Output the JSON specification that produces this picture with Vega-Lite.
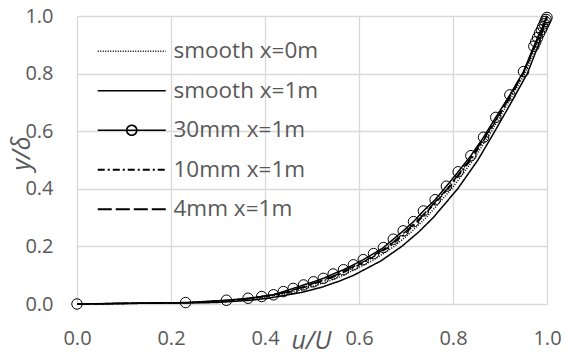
{
  "$schema": "https://vega.github.io/schema/vega-lite/v6.json",
  "width": 470,
  "height": 288,
  "autosize": {"type": "none"},
  "padding": {"left": 77, "top": 16, "right": 21, "bottom": 50},
  "background": "white",
  "config": {
    "view": {"stroke": null},
    "font": "Open Sans",
    "axis": {
      "grid": true,
      "gridColor": "#d9d9d9",
      "gridWidth": 1.3,
      "domain": false,
      "ticks": false,
      "labelFlush": false,
      "labelFont": "Open Sans",
      "labelFontSize": 20,
      "labelColor": "#595959",
      "titleFont": "Open Sans",
      "titleFontSize": 25,
      "titleFontStyle": "italic",
      "titleFontWeight": "normal",
      "titleColor": "#595959"
    }
  },
  "data": {
    "values": [
      {"s": "smooth x=0m", "u": 0, "y": 0},
      {"s": "smooth x=0m", "u": 0.267, "y": 0.005},
      {"s": "smooth x=0m", "u": 0.346, "y": 0.013},
      {"s": "smooth x=0m", "u": 0.386, "y": 0.02},
      {"s": "smooth x=0m", "u": 0.458, "y": 0.04},
      {"s": "smooth x=0m", "u": 0.5, "y": 0.06},
      {"s": "smooth x=0m", "u": 0.536, "y": 0.08},
      {"s": "smooth x=0m", "u": 0.567, "y": 0.1},
      {"s": "smooth x=0m", "u": 0.628, "y": 0.15},
      {"s": "smooth x=0m", "u": 0.675, "y": 0.2},
      {"s": "smooth x=0m", "u": 0.711, "y": 0.25},
      {"s": "smooth x=0m", "u": 0.743, "y": 0.3},
      {"s": "smooth x=0m", "u": 0.797, "y": 0.4},
      {"s": "smooth x=0m", "u": 0.843, "y": 0.5},
      {"s": "smooth x=0m", "u": 0.882, "y": 0.6},
      {"s": "smooth x=0m", "u": 0.918, "y": 0.7},
      {"s": "smooth x=0m", "u": 0.953, "y": 0.8},
      {"s": "smooth x=0m", "u": 0.978, "y": 0.9},
      {"s": "smooth x=0m", "u": 1.0, "y": 1.0},
      {"s": "smooth x=1m", "u": 0, "y": 0},
      {"s": "smooth x=1m", "u": 0.296, "y": 0.005},
      {"s": "smooth x=1m", "u": 0.369, "y": 0.013},
      {"s": "smooth x=1m", "u": 0.407, "y": 0.02},
      {"s": "smooth x=1m", "u": 0.477, "y": 0.04},
      {"s": "smooth x=1m", "u": 0.524, "y": 0.06},
      {"s": "smooth x=1m", "u": 0.559, "y": 0.08},
      {"s": "smooth x=1m", "u": 0.589, "y": 0.1},
      {"s": "smooth x=1m", "u": 0.647, "y": 0.15},
      {"s": "smooth x=1m", "u": 0.691, "y": 0.2},
      {"s": "smooth x=1m", "u": 0.727, "y": 0.25},
      {"s": "smooth x=1m", "u": 0.758, "y": 0.3},
      {"s": "smooth x=1m", "u": 0.81, "y": 0.4},
      {"s": "smooth x=1m", "u": 0.853, "y": 0.5},
      {"s": "smooth x=1m", "u": 0.889, "y": 0.6},
      {"s": "smooth x=1m", "u": 0.924, "y": 0.7},
      {"s": "smooth x=1m", "u": 0.958, "y": 0.8},
      {"s": "smooth x=1m", "u": 0.982, "y": 0.9},
      {"s": "smooth x=1m", "u": 1.0, "y": 1.0},
      {"s": "30mm x=1m", "u": 0, "y": 0},
      {"s": "30mm x=1m", "u": 0.231, "y": 0.005},
      {"s": "30mm x=1m", "u": 0.318, "y": 0.013},
      {"s": "30mm x=1m", "u": 0.364, "y": 0.02},
      {"s": "30mm x=1m", "u": 0.393, "y": 0.026},
      {"s": "30mm x=1m", "u": 0.418, "y": 0.032},
      {"s": "30mm x=1m", "u": 0.439, "y": 0.043},
      {"s": "30mm x=1m", "u": 0.46, "y": 0.054},
      {"s": "30mm x=1m", "u": 0.482, "y": 0.066},
      {"s": "30mm x=1m", "u": 0.503, "y": 0.077},
      {"s": "30mm x=1m", "u": 0.524, "y": 0.089},
      {"s": "30mm x=1m", "u": 0.545, "y": 0.104},
      {"s": "30mm x=1m", "u": 0.567, "y": 0.119},
      {"s": "30mm x=1m", "u": 0.588, "y": 0.136},
      {"s": "30mm x=1m", "u": 0.609, "y": 0.154},
      {"s": "30mm x=1m", "u": 0.631, "y": 0.175},
      {"s": "30mm x=1m", "u": 0.652, "y": 0.196},
      {"s": "30mm x=1m", "u": 0.673, "y": 0.225},
      {"s": "30mm x=1m", "u": 0.694, "y": 0.254},
      {"s": "30mm x=1m", "u": 0.716, "y": 0.286},
      {"s": "30mm x=1m", "u": 0.737, "y": 0.323},
      {"s": "30mm x=1m", "u": 0.762, "y": 0.362},
      {"s": "30mm x=1m", "u": 0.786, "y": 0.409},
      {"s": "30mm x=1m", "u": 0.811, "y": 0.459},
      {"s": "30mm x=1m", "u": 0.838, "y": 0.515},
      {"s": "30mm x=1m", "u": 0.865, "y": 0.579},
      {"s": "30mm x=1m", "u": 0.891, "y": 0.648},
      {"s": "30mm x=1m", "u": 0.921, "y": 0.726},
      {"s": "30mm x=1m", "u": 0.95, "y": 0.807},
      {"s": "30mm x=1m", "u": 0.972, "y": 0.895},
      {"s": "30mm x=1m", "u": 0.976, "y": 0.91},
      {"s": "30mm x=1m", "u": 0.98, "y": 0.925},
      {"s": "30mm x=1m", "u": 0.984, "y": 0.94},
      {"s": "30mm x=1m", "u": 0.988, "y": 0.952},
      {"s": "30mm x=1m", "u": 0.991, "y": 0.963},
      {"s": "30mm x=1m", "u": 0.994, "y": 0.973},
      {"s": "30mm x=1m", "u": 0.996, "y": 0.981},
      {"s": "30mm x=1m", "u": 0.998, "y": 0.988},
      {"s": "30mm x=1m", "u": 1.0, "y": 0.995},
      {"s": "10mm x=1m", "u": 0, "y": 0},
      {"s": "10mm x=1m", "u": 0.251, "y": 0.005},
      {"s": "10mm x=1m", "u": 0.333, "y": 0.013},
      {"s": "10mm x=1m", "u": 0.374, "y": 0.02},
      {"s": "10mm x=1m", "u": 0.447, "y": 0.04},
      {"s": "10mm x=1m", "u": 0.487, "y": 0.06},
      {"s": "10mm x=1m", "u": 0.523, "y": 0.08},
      {"s": "10mm x=1m", "u": 0.555, "y": 0.1},
      {"s": "10mm x=1m", "u": 0.617, "y": 0.15},
      {"s": "10mm x=1m", "u": 0.666, "y": 0.2},
      {"s": "10mm x=1m", "u": 0.702, "y": 0.25},
      {"s": "10mm x=1m", "u": 0.734, "y": 0.3},
      {"s": "10mm x=1m", "u": 0.79, "y": 0.4},
      {"s": "10mm x=1m", "u": 0.838, "y": 0.5},
      {"s": "10mm x=1m", "u": 0.878, "y": 0.6},
      {"s": "10mm x=1m", "u": 0.915, "y": 0.7},
      {"s": "10mm x=1m", "u": 0.95, "y": 0.8},
      {"s": "10mm x=1m", "u": 0.976, "y": 0.9},
      {"s": "10mm x=1m", "u": 1.0, "y": 1.0},
      {"s": "4mm x=1m", "u": 0, "y": 0},
      {"s": "4mm x=1m", "u": 0.244, "y": 0.005},
      {"s": "4mm x=1m", "u": 0.328, "y": 0.013},
      {"s": "4mm x=1m", "u": 0.369, "y": 0.02},
      {"s": "4mm x=1m", "u": 0.443, "y": 0.04},
      {"s": "4mm x=1m", "u": 0.482, "y": 0.06},
      {"s": "4mm x=1m", "u": 0.518, "y": 0.08},
      {"s": "4mm x=1m", "u": 0.55, "y": 0.1},
      {"s": "4mm x=1m", "u": 0.613, "y": 0.15},
      {"s": "4mm x=1m", "u": 0.662, "y": 0.2},
      {"s": "4mm x=1m", "u": 0.698, "y": 0.25},
      {"s": "4mm x=1m", "u": 0.731, "y": 0.3},
      {"s": "4mm x=1m", "u": 0.788, "y": 0.4},
      {"s": "4mm x=1m", "u": 0.835, "y": 0.5},
      {"s": "4mm x=1m", "u": 0.876, "y": 0.6},
      {"s": "4mm x=1m", "u": 0.914, "y": 0.7},
      {"s": "4mm x=1m", "u": 0.949, "y": 0.8},
      {"s": "4mm x=1m", "u": 0.975, "y": 0.9},
      {"s": "4mm x=1m", "u": 1.0, "y": 1.0}
    ]
  },
  "encoding": {
    "x": {
      "field": "u", "type": "quantitative",
      "scale": {"domain": [0, 1], "nice": false, "zero": false},
      "axis": {
        "values": [0, 0.2, 0.4, 0.6, 0.8, 1.0], "format": ".1f",
        "labelPadding": 24, "title": "u/U",
        "titleX": 234, "titleY": 44, "titleAlign": "center", "titleBaseline": "alphabetic"
      }
    },
    "y": {
      "field": "y", "type": "quantitative",
      "scale": {"domain": [0, 1], "nice": false, "zero": false},
      "axis": {
        "values": [0, 0.2, 0.4, 0.6, 0.8, 1.0], "format": ".1f",
        "labelPadding": 24, "title": "y/δ",
        "titleX": -48, "titleY": 137, "titleAngle": -90, "titleAlign": "center", "titleBaseline": "alphabetic"
      }
    }
  },
  "layer": [
    {
      "mark": {"type": "line", "color": "black", "strokeWidth": 1.5},
      "encoding": {
        "strokeDash": {
          "field": "s", "type": "nominal",
          "scale": {
            "domain": ["smooth x=0m", "smooth x=1m", "30mm x=1m", "10mm x=1m", "4mm x=1m"],
            "range": [[1, 1.5], [1, 0], [1, 0], [7, 3, 2, 3], [14, 4]]
          },
          "legend": {
            "orient": "none",
            "legendX": 43.5,
            "legendY": 24,
            "title": null,
            "padding": 0,
            "symbolSize": 100,
            "symbolStrokeColor": "black",
            "symbolStrokeWidth": 1.5,
            "labelFont": "Open Sans",
            "labelFontSize": 22.5,
            "labelColor": "#595959",
            "labelOffset": 30.5,
            "rowPadding": 16.5,
            "encode": {
              "symbols": {
                "update": {
                  "shape": {"signal": "datum.value === '30mm x=1m' ? 'M-6.8,0H6.8M1,0A1,1,0,1,1,-1,0A1,1,0,1,1,1,0' : 'M-6.8,0H6.8'"},
                  "strokeWidth": {"signal": "datum.value === 'smooth x=1m' ? 2 : 1.5"}
                }
              }
            }
          }
        },
        "strokeWidth": {
          "field": "s", "type": "nominal",
          "scale": {
            "domain": ["smooth x=0m", "smooth x=1m", "30mm x=1m", "10mm x=1m", "4mm x=1m"],
            "range": [1.4, 2, 1.3, 1.5, 1.5]
          },
          "legend": null
        }
      }
    },
    {
      "transform": [{"filter": "datum.s === '30mm x=1m'"}],
      "mark": {"type": "point", "shape": "circle", "size": 110, "filled": false, "stroke": "black", "strokeWidth": 1, "opacity": 1}
    }
  ]
}
